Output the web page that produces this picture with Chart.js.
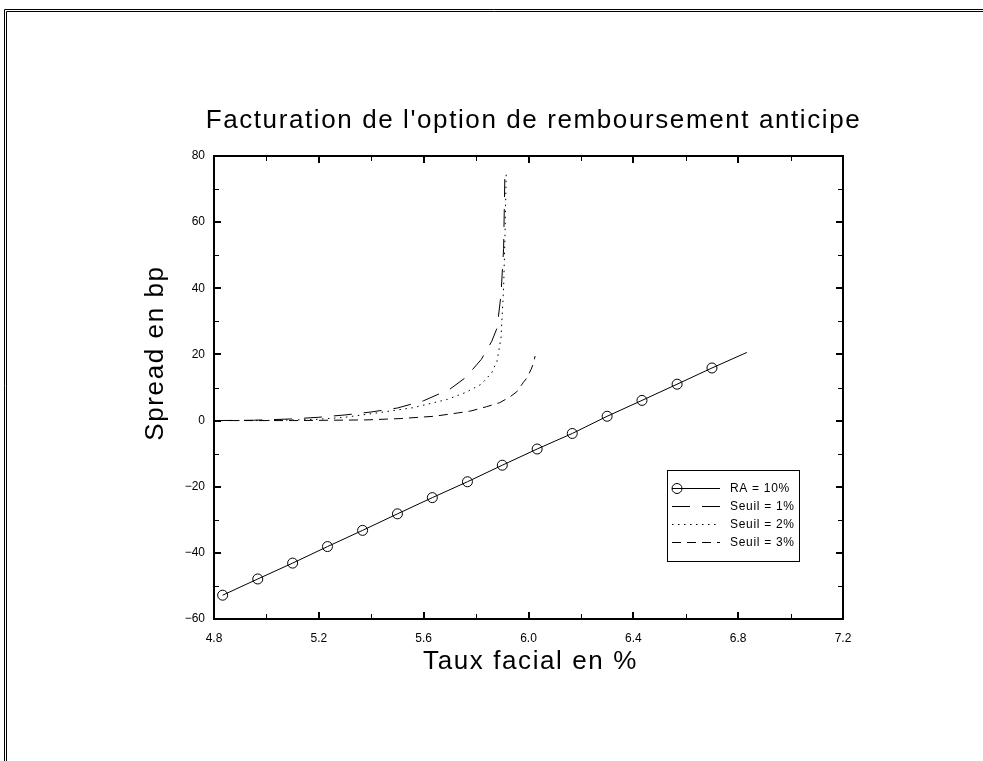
<!DOCTYPE html>
<html>
<head>
<meta charset="utf-8">
<title>Facturation de l'option de remboursement anticipe</title>
<script src="https://cdn.jsdelivr.net/npm/chart.js@4.4.1/dist/chart.umd.min.js"></script>
<style>
  html, body { margin: 0; padding: 0; background: #fff; }
  #wrap { position: relative; width: 983px; height: 761px; }
</style>
</head>
<body>
<div id="wrap"><canvas id="chart"></canvas></div>
<script>
// RA = 10% (markers on every point but the last one)
const raX = [4.833, 4.967, 5.100, 5.233, 5.367, 5.500, 5.633, 5.767, 5.900, 6.033, 6.167, 6.300, 6.433, 6.567, 6.700, 6.833];
const raY = [-52.8, -47.9, -43.1, -38.1, -33.2, -28.2, -23.3, -18.5, -13.5, -8.6, -3.9, 1.3, 6.1, 11.0, 15.9, 20.6];

// Seuil = 1%
const s1X = [4.80, 4.95, 5.10, 5.20, 5.30, 5.40, 5.50, 5.60, 5.70, 5.76, 5.82, 5.86, 5.88, 5.895, 5.905, 5.91];
const s1Y = [0, 0.1, 0.5, 1.0, 1.7, 2.6, 3.8, 6.0, 9.5, 13, 18.5, 24, 28, 38, 52, 75];

// Seuil = 2%
const s2X = [4.80, 5.00, 5.18, 5.30, 5.43, 5.56, 5.69, 5.76, 5.82, 5.86, 5.88, 5.895, 5.905, 5.91, 5.915];
const s2Y = [0, 0.05, 0.3, 1.0, 2.4, 3.9, 6.4, 8.5, 11, 14.5, 18, 25, 40, 55, 75];

// Seuil = 3%
const s3X = [4.80, 5.10, 5.38, 5.51, 5.64, 5.73, 5.78, 5.84, 5.89, 5.93, 5.955, 5.98, 5.995, 6.01, 6.02, 6.025];
const s3Y = [0, 0, 0.2, 0.6, 1.3, 2.3, 2.9, 4.2, 5.4, 7.2, 8.7, 11.5, 13, 15.5, 17.5, 19.5];

const seriesLabels = ['RA = 10%', 'Seuil = 1%', 'Seuil = 2%', 'Seuil = 3%'];
const xRange = [4.8, 7.2];
const yRange = [-60, 80];

const titleText = "Facturation de l'option de remboursement anticipe";
const xTitle = 'Taux facial en %';
const yTitle = 'Spread en bp';

const bigFont = '26px "Liberation Sans"';

function pts(xs, ys) {
  return xs.map((x, i) => ({ x: x, y: ys[i] }));
}

function spacedText(ctx, text, x, y, rot) {
  ctx.save();
  ctx.translate(x, y);
  if (rot) ctx.rotate(rot);
  ctx.fillStyle = '#000';
  ctx.font = bigFont;
  ctx.letterSpacing = '1.6px';
  ctx.textAlign = 'center';
  ctx.textBaseline = 'middle';
  ctx.fillText(text, 0, 0);
  ctx.restore();
}

// frame, inward ticks, titles and the boxed legend
const boxPlot = {
  id: 'boxPlot',
  afterDraw(chart) {
    const { ctx, chartArea: a, scales } = chart;
    const L = Math.round(a.left), R = Math.round(a.right);
    const T = Math.round(a.top), B = Math.round(a.bottom);
    ctx.save();
    ctx.strokeStyle = '#000';

    // outer double frame
    ctx.lineWidth = 1;
    ctx.beginPath();
    ctx.moveTo(983, 9.5); ctx.lineTo(4.5, 9.5); ctx.lineTo(4.5, 761);
    ctx.moveTo(983, 11.5); ctx.lineTo(6.5, 11.5); ctx.lineTo(6.5, 761);
    ctx.stroke();

    // ticks pointing inward on all four sides
    scales.x.ticks.forEach(t => {
      const px = Math.round(scales.x.getPixelForValue(t.value));
      const major = t.label !== '';
      const len = major ? 7 : 5;
      ctx.lineWidth = major ? 2 : 1;
      const off = major ? 0 : 0.5;
      ctx.beginPath();
      ctx.moveTo(px + off, B); ctx.lineTo(px + off, B - len);
      ctx.moveTo(px + off, T); ctx.lineTo(px + off, T + len);
      ctx.stroke();
    });
    scales.y.ticks.forEach(t => {
      const py = Math.round(scales.y.getPixelForValue(t.value));
      const major = t.label !== '';
      const len = major ? 7 : 5;
      ctx.lineWidth = major ? 2 : 1;
      const off = major ? 0 : 0.5;
      ctx.beginPath();
      ctx.moveTo(L, py + off); ctx.lineTo(L + len, py + off);
      ctx.moveTo(R, py + off); ctx.lineTo(R - len, py + off);
      ctx.stroke();
    });

    // plot border
    ctx.lineWidth = 2;
    ctx.strokeRect(L, T, R - L, B - T);

    // titles
    spacedText(ctx, titleText, (L + R) / 2 + 5, T - 35);
    spacedText(ctx, xTitle, (L + R) / 2 + 2, B + 43);
    spacedText(ctx, yTitle, L - 58, B - 266, -Math.PI / 2);

    // legend box
    const bx = R - 176, by = B - 149, bw = 132, bh = 91;
    ctx.lineWidth = 1;
    ctx.strokeRect(bx + 0.5, by + 0.5, bw, bh);
    ctx.font = '12px "Liberation Sans"';
    ctx.letterSpacing = '0.7px';
    ctx.fillStyle = '#000';
    ctx.textAlign = 'left';
    ctx.textBaseline = 'middle';
    chart.data.datasets.forEach((ds, i) => {
      const y = Math.round(by + 18 + i * 18) + 0.5;
      ctx.setLineDash(ds.borderDash || []);
      ctx.beginPath();
      ctx.moveTo(bx + 5, y); ctx.lineTo(bx + 53, y);
      ctx.stroke();
      ctx.setLineDash([]);
      if (i === 0) {
        ctx.beginPath();
        ctx.arc(bx + 10, y, 5, 0, Math.PI * 2);
        ctx.stroke();
      }
      ctx.fillText(ds.label, bx + 63, y);
    });
    ctx.restore();
  }
};

Chart.defaults.color = '#000';
Chart.defaults.font.family = 'Liberation Sans';

const lineBase = {
  showLine: true,
  borderColor: '#000',
  borderWidth: 1,
  pointRadius: 0,
  tension: 0,
};

new Chart(document.getElementById('chart'), {
  type: 'scatter',
  data: {
    datasets: [
      Object.assign({}, lineBase, {
        label: seriesLabels[0],
        data: pts(raX, raY),
        pointRadius: raX.map((x, i) => (i < raX.length - 1 ? 5 : 0)),
        pointBorderColor: '#000',
        pointBackgroundColor: 'rgba(0,0,0,0)',
        pointBorderWidth: 1,
        borderDash: [],
      }),
      Object.assign({}, lineBase, {
        label: seriesLabels[1],
        data: pts(s1X, s1Y),
        borderDash: [18, 12],
      }),
      Object.assign({}, lineBase, {
        label: seriesLabels[2],
        data: pts(s2X, s2Y),
        borderDash: [1.5, 4.5],
      }),
      Object.assign({}, lineBase, {
        label: seriesLabels[3],
        data: pts(s3X, s3Y),
        borderDash: [9, 6],
      }),
    ]
  },
  options: {
    responsive: true,
    maintainAspectRatio: false,
    animation: false,
    events: [],
    layout: {
      autoPadding: false,
      padding: { left: 174, right: 140, top: 156, bottom: 82 }
    },
    plugins: {
      legend: { display: false },
      tooltip: { enabled: false },
      title: { display: false }
    },
    scales: {
      x: {
        type: 'linear',
        min: xRange[0],
        max: xRange[1],
        grid: { display: false, drawTicks: false },
        border: { display: false },
        ticks: {
          stepSize: 0.2,
          autoSkip: false,
          maxRotation: 0,
          padding: 12,
          font: { size: 12 },
          callback: v => (Math.round(v * 10) % 4 === 0 ? v.toFixed(1) : '')
        },
        afterFit: s => { s.height = 60; }
      },
      y: {
        type: 'linear',
        min: yRange[0],
        max: yRange[1],
        grid: { display: false, drawTicks: false },
        border: { display: false },
        ticks: {
          stepSize: 10,
          autoSkip: false,
          padding: 9,
          font: { size: 12 },
          callback: v => (Math.round(v) % 20 === 0 ? String(Math.round(v)).replace('-', '\u2212') : '')
        },
        afterFit: s => { s.width = 40; }
      }
    }
  },
  plugins: [boxPlot]
});
</script>
</body>
</html>
